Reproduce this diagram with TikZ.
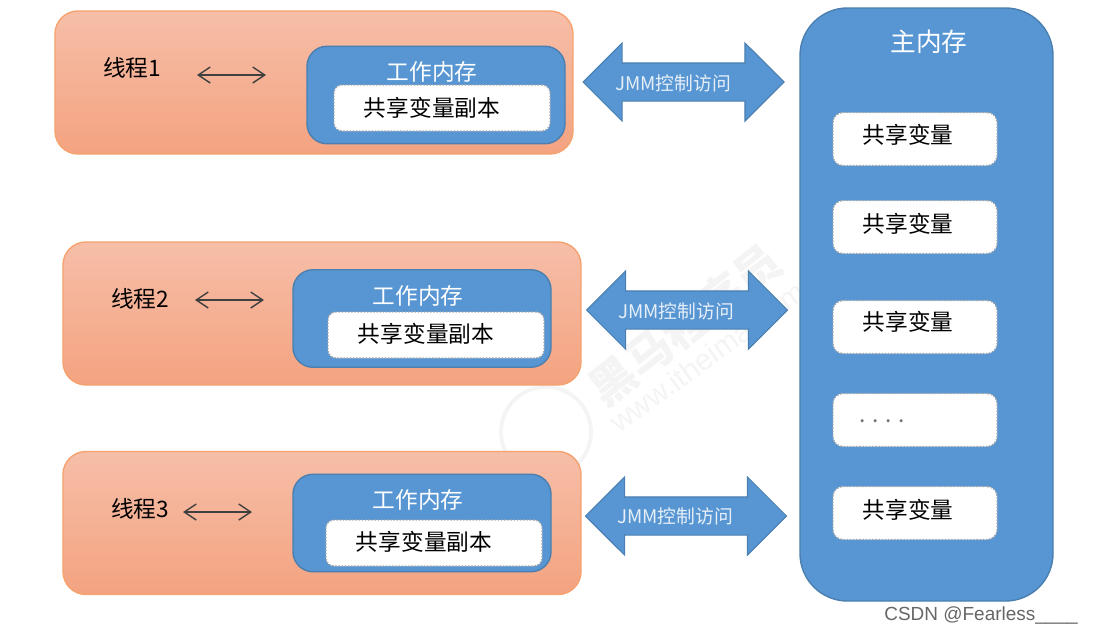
\documentclass[tikz,border=0pt]{standalone}
\usepackage{fontspec}
\setmainfont{Noto Sans CJK SC}
\newfontfamily\latinfont{Liberation Sans}
\usetikzlibrary{shapes.arrows,arrows.meta}
\definecolor{memblue}{HTML}{5796D3}
\definecolor{memedge}{HTML}{4A7FB0}
\definecolor{threadtop}{HTML}{F6BEA8}
\definecolor{threadbot}{HTML}{F4A380}
\definecolor{threadedge}{HTML}{F5A26E}
\definecolor{markgray}{HTML}{F4F4F4}
\newcommand{\shaftstrut}{\rule{0pt}{7.4mm}}

\begin{document}
\begin{tikzpicture} [x=.2mm,y=-.2mm,>={Straight Barb[length=2.4mm,width=3.2mm]}]
  \tikzstyle{threadbox}=[draw=threadedge,line width=.8pt,top color=threadtop,bottom color=threadbot,rounded corners=4.6mm,minimum width=103.6mm,minimum height=28.6mm]
  \tikzstyle{workbox}=[draw=memedge,line width=.8pt,fill=memblue,rounded corners=4mm,minimum width=51.6mm,minimum height=19.5mm]
  \tikzstyle{copybox}=[draw=black!35,densely dotted,line width=.8pt,fill=white,rounded corners=1.6mm,minimum width=43.2mm,minimum height=9.2mm]
  \tikzstyle{varbox}=[draw=black!35,densely dotted,line width=.8pt,fill=white,rounded corners=2mm,minimum width=32.8mm,minimum height=10.6mm]
  \tikzstyle{mainbox}=[draw=memedge,line width=.8pt,fill=memblue,rounded corners=9.5mm,minimum width=50.6mm,minimum height=118.6mm]
  \tikzstyle{jmmarrow}=[double arrow,draw=memedge,line width=.6pt,fill=memblue,minimum height=40.2mm,double arrow head extend=4mm,double arrow tip angle=90,inner sep=0pt]
  \tikzstyle{darktext}=[font=\fontsize{12.9}{14}\selectfont,text=black,inner sep=0pt]
  \tikzstyle{whitetext}=[font=\fontsize{12.9}{14}\selectfont,text=white,inner sep=0pt]
  \tikzstyle{jmmtext}=[font=\fontsize{10.7}{12}\selectfont,text=white!85!memblue,inner sep=0pt]
  \tikzstyle{thin arrow}=[<->,draw=black!75,line width=.8pt]
  \useasboundingbox (0,0) rectangle (1094,631);

  % faint marks behind the arrows
  \node[font=\fontsize{26}{27}\selectfont\bfseries,text=markgray,rotate=38] (mark) at (685,325) {黑马程序员};
  \node[font=\latinfont\fontsize{17}{18}\selectfont,text=markgray,rotate=36] (site) at (707,357) {www.itheima.com};
  \node[circle,draw=markgray,line width=2.2pt,minimum size=18mm] (logo) at (546,432) {};

  % threads
  \node[threadbox] (T1) at (314,82.5)  {};
  \node[threadbox] (T2) at (322,313.5) {};
  \node[threadbox] (T3) at (322,523)   {};

  \node[darktext] (L1) at (132,68)  {线程1};
  \node[darktext] (L2) at (140,299) {线程2};
  \node[darktext] (L3) at (140,509) {线程3};

  \coordinate (A1) at (197,75);  \coordinate (B1) at (266,75);
  \coordinate (A2) at (195,300); \coordinate (B2) at (264,300);
  \coordinate (A3) at (183,512); \coordinate (B3) at (252,512);
  \draw[thin arrow] (A1) -- (B1);
  \draw[thin arrow] (A2) -- (B2);
  \draw[thin arrow] (A3) -- (B3);

  % working memory
  \node[workbox] (W1) at (436,95)    {};
  \node[workbox] (W2) at (422,318.5) {};
  \node[workbox] (W3) at (422,523)   {};

  \node[whitetext] (WT1) at (432,72)  {工作内存};
  \node[whitetext] (WT2) at (418,296) {工作内存};
  \node[whitetext] (WT3) at (418,500) {工作内存};

  \node[copybox] (C1) at (442,108) {};
  \node[copybox] (C2) at (436,335) {};
  \node[copybox] (C3) at (434,543) {};

  \node[darktext] (CT1) at (432,108) {共享变量副本};
  \node[darktext] (CT2) at (426,334) {共享变量副本};
  \node[darktext] (CT3) at (424,542) {共享变量副本};

  % access arrows
  \node[jmmarrow] (J1) at (683.5,82) {\shaftstrut};
  \node[jmmarrow] (J2) at (687,310)  {\shaftstrut};
  \node[jmmarrow] (J3) at (686,516)  {\shaftstrut};

  \node[jmmtext] (JT1) at (673,83)  {JMM控制访问};
  \node[jmmtext] (JT2) at (676,311) {JMM控制访问};
  \node[jmmtext] (JT3) at (675,516) {JMM控制访问};

  % main memory
  \node[mainbox] (M) at (926.5,304.5) {};
  \node[whitetext,font=\fontsize{14.6}{16}\selectfont] (MT) at (929,42) {主内存};

  \node[varbox] (V1) at (915,139) {};
  \node[varbox] (V2) at (915,227) {};
  \node[varbox] (V3) at (915,327) {};
  \node[varbox] (V4) at (915,420) {};
  \node[varbox] (V5) at (915,513) {};

  \node[darktext] (VT1) at (908,135) {共享变量};
  \node[darktext] (VT2) at (908,224) {共享变量};
  \node[darktext] (VT3) at (908,322) {共享变量};
  \node[darktext,text=black!55] (VT4) at (882,421) {. . . .};
  \node[darktext] (VT5) at (908,510) {共享变量};

  \node[font=\latinfont\fontsize{10.8}{12}\selectfont,text=black!60,inner sep=0pt] (csdn) at (981,615) {CSDN @Fearless\_\_\_\_};
\end{tikzpicture}
\end{document}
